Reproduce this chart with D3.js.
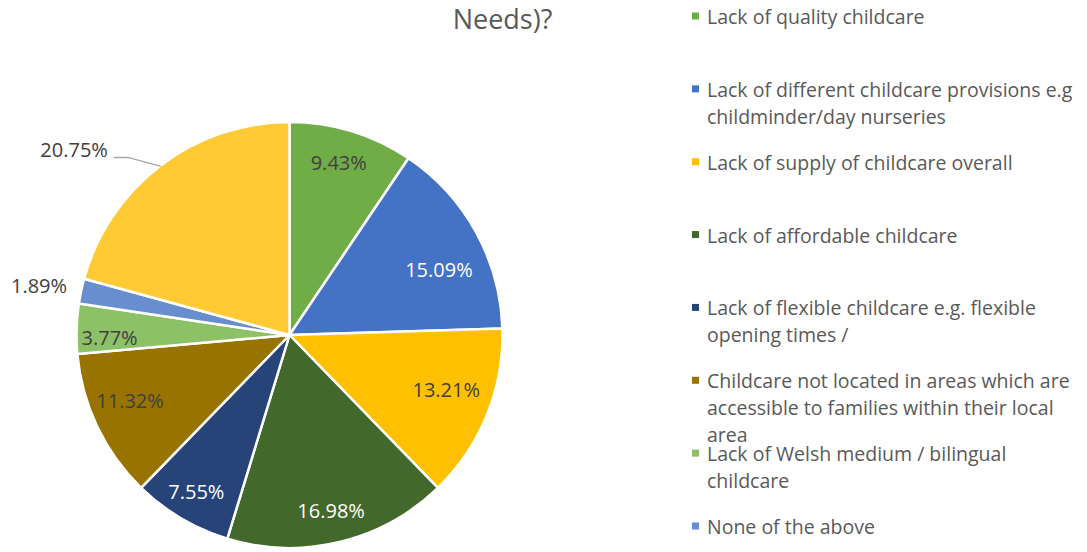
<!DOCTYPE html>
<html><head><meta charset="utf-8">
<script src="https://cdn.jsdelivr.net/npm/d3@7"></script>
<style>body{margin:0;background:#fff}svg{display:block}text{font-family:"Open Sans","Liberation Sans",sans-serif}</style>
</head><body>
<svg id="c" width="1087" height="552"></svg>
<script>
const categories = [
  "Lack of quality childcare",
  "Lack of different childcare provisions e.g\nchildminder/day nurseries",
  "Lack of supply of childcare overall",
  "Lack of affordable childcare",
  "Lack of flexible childcare e.g. flexible\nopening times /",
  "Childcare not located in areas which are\naccessible to families within their local\narea",
  "Lack of Welsh medium / bilingual\nchildcare",
  "None of the above",
  "Other"
];
const values = [9.43, 15.09, 13.21, 16.98, 7.55, 11.32, 3.77, 1.89, 20.75];
const colors = ["#70AD47","#4472C4","#FFC000","#43682B","#264478","#997300","#8CC168","#698ED0","#FFCA33"];
const labelColors = ["#404040","#ffffff","#404040","#ffffff","#ffffff","#404040","#404040","#404040","#404040"];
const legendCount = 8;
const titleText = "Needs)?";

const svg = d3.select("#c");
const cx = 289.5, cy = 335, R = 213;

svg.append("text").attr("x", 502.5).attr("y", 29).attr("text-anchor","middle")
  .attr("font-size", 27).attr("fill", "#595959").text(titleText);

const pie = d3.pie().sort(null).value(d => d)(values);
const arc = d3.arc().innerRadius(0).outerRadius(R);
const g = svg.append("g").attr("transform", `translate(${cx},${cy})`);
g.selectAll("path").data(pie).join("path")
  .attr("d", arc).attr("fill", (d,i) => colors[i])
  .attr("stroke", "#fff").attr("stroke-width", 2.5).attr("stroke-linejoin","round");

// label placement: fraction of radius and angle shift (deg) for inside labels
const labelR = [0.84, 0.765, 0.78, 0.85, 0.855, 0.81, 0.845, null, null];
const labelShift = [-1, 5.4, -2.7, 0.3, 0.2, 3, -2.7, 0, 0];
const fmt = v => v.toFixed(2) + "%";
const LFS = 20;
pie.forEach((d, i) => {
  const mid = (d.startAngle + d.endAngle) / 2;
  if (labelR[i] != null) {
    const a = mid + labelShift[i] * Math.PI / 180;
    const r = labelR[i] * R;
    g.append("text").attr("x", Math.sin(a) * r).attr("y", -Math.cos(a) * r)
      .attr("dy", "0.36em").attr("text-anchor", "middle").attr("font-size", LFS)
      .attr("fill", labelColors[i]).text(fmt(values[i]));
  } else if (i === 7) {
    const p = [Math.sin(mid) * R, -Math.cos(mid) * R];
    g.append("text").attr("x", p[0] - 14).attr("y", p[1] - 5)
      .attr("dy", "0.36em").attr("text-anchor", "end").attr("font-size", LFS)
      .attr("fill", labelColors[i]).text(fmt(values[i]));
  } else {
    const p0 = [Math.sin(mid) * (R - 1), -Math.cos(mid) * (R - 1)];
    const p1 = [p0[0] - 33, p0[1] - 9];
    const p2 = [p1[0] - 14, p1[1]];
    g.append("polyline").attr("points", [p0, p1, p2].map(p => p.join(",")).join(" "))
      .attr("fill", "none").attr("stroke", "#a6a6a6").attr("stroke-width", 1.3);
    g.append("text").attr("x", p2[0] - 6).attr("y", p2[1] - 8)
      .attr("dy", "0.36em").attr("text-anchor", "end").attr("font-size", LFS)
      .attr("fill", labelColors[i]).text(fmt(values[i]));
  }
});

// legend
const lg = svg.append("g");
const legY = d3.scaleLinear().domain([0, legendCount - 1]).range([24, 534]);
categories.slice(0, legendCount).forEach((c, i) => {
  const y = legY(i);
  lg.append("rect").attr("x", 692).attr("y", y - 11.5).attr("width", 7).attr("height", 7).attr("fill", colors[i]);
  const t = lg.append("text").attr("x", 707).attr("y", y)
    .attr("font-size", 19.5).attr("fill", "#595959");
  c.split("\n").forEach((line, k) => {
    t.append("tspan").attr("x", 707).attr("dy", k === 0 ? 0 : 27).text(line);
  });
});
</script>
</body></html>
